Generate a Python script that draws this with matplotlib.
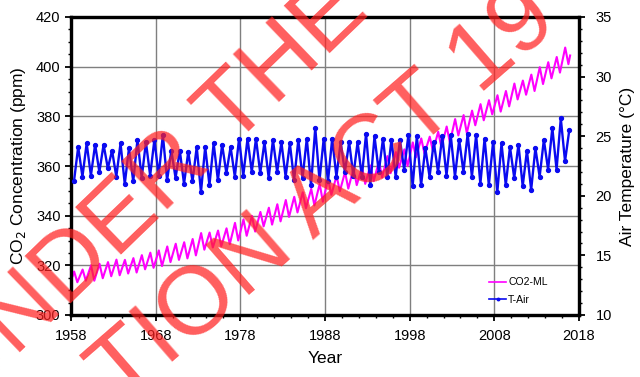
import numpy as np
import matplotlib
matplotlib.use('Agg')
import matplotlib.pyplot as plt
from matplotlib.ticker import MultipleLocator
from matplotlib.lines import Line2D

plt.rcParams['font.family'] = ['Liberation Sans', 'DejaVu Sans']

# ── Data ─────────────────────────────────────────────────────────────────────
# CO2 at Mauna Loa: seasonal maximum (May) and minimum (Sep/Oct) per year, ppm
years = list(range(1958, 2017))
co2_may = [317.5, 318.3, 320.0, 320.6, 321.3, 322.3, 322.2, 322.9, 324.1, 325.1,
           326.0, 327.6, 328.7, 329.3, 330.6, 333.0, 333.2, 334.0, 334.9, 337.1,
           338.5, 339.9, 341.5, 343.2, 344.6, 346.3, 347.6, 349.4, 350.8, 352.8,
           355.0, 356.1, 357.6, 359.0, 359.5, 360.2, 361.8, 364.0, 365.6, 366.7,
           369.5, 371.1, 371.8, 373.8, 375.9, 378.9, 380.5, 382.3, 384.9, 386.5,
           388.5, 390.2, 393.2, 394.4, 396.8, 399.8, 401.8, 403.9, 407.7]
co2_oct = [313.2, 313.8, 313.8, 314.8, 315.6, 316.0, 316.7, 317.1, 318.4, 319.0,
           319.7, 321.3, 322.2, 322.8, 324.0, 326.3, 327.2, 327.7, 328.5, 330.0,
           331.9, 333.6, 335.7, 336.4, 337.7, 339.5, 341.3, 343.0, 344.1, 345.6,
           348.4, 349.8, 350.9, 352.3, 352.8, 353.9, 355.4, 357.1, 359.3, 360.0,
           363.5, 365.0, 366.0, 367.5, 369.5, 372.3, 373.3, 376.4, 378.4, 380.8,
           381.9, 384.0, 386.8, 388.7, 390.2, 393.0, 395.3, 397.6, 401.0]
co2_start = (1958.2, 315.7)
co2_end = (2016.95, 404.5)

# Air temperature: yearly low and high, deg C
t_low = [21.2, 21.6, 21.7, 22.0, 22.3, 21.6, 21.0, 21.2, 21.5, 21.7,
         21.7, 21.3, 21.5, 21.0, 21.2, 20.3, 20.9, 21.3, 21.9, 21.6,
         21.7, 22.0, 21.9, 21.5, 22.0, 21.6, 21.3, 21.5, 20.9, 21.3,
         21.2, 21.6, 22.0, 21.7, 21.6, 20.9, 22.0, 21.6, 21.6, 22.2,
         20.8, 20.9, 21.6, 22.0, 21.7, 21.6, 22.0, 21.6, 21.0, 20.9,
         20.3, 20.9, 21.5, 20.8, 20.5, 21.6, 22.2, 22.2, 22.9]
t_high = [24.1, 24.4, 24.3, 24.3, 23.8, 24.4, 24.0, 24.7, 24.5, 24.7,
          25.1, 23.8, 23.8, 23.7, 24.1, 24.1, 24.4, 24.3, 24.1, 24.8,
          24.8, 24.8, 24.5, 24.7, 24.5, 24.4, 24.7, 24.8, 25.7, 24.8,
          24.8, 24.5, 24.5, 24.5, 25.2, 25.0, 24.8, 24.7, 24.7, 25.1,
          25.0, 24.0, 24.5, 25.0, 25.1, 24.7, 25.2, 25.1, 24.8, 24.5,
          24.4, 24.1, 24.3, 23.8, 24.0, 24.7, 25.7, 26.5, 25.5]

yr = np.array(years, dtype=float)
co2_t = np.concatenate([[co2_start[0]], np.column_stack([yr + 0.37, yr + 0.75]).ravel(), [co2_end[0]]])
co2_v = np.concatenate([[co2_start[1]], np.column_stack([co2_may, co2_oct]).ravel(), [co2_end[1]]])
ta_t = np.column_stack([yr + 0.35, yr + 0.85]).ravel()
ta_v = np.column_stack([t_low, t_high]).ravel()

# ── Figure ────────────────────────────────────────────────────────────────────
fig = plt.figure(figsize=(6.4, 3.77), dpi=100)
ax = fig.add_axes([71/640, 1-315/377, 508/640, 298/377])
ax2 = ax.twinx()

ax.plot(co2_t, co2_v, color='#FF00FF', lw=1.5, zorder=3)
ax2.plot(ta_t, ta_v, color='#0A0AF0', lw=1.7, marker='o', ms=2.8, zorder=3)

ax.set_xlim(1958, 2018)
ax.set_ylim(300, 420)
ax2.set_ylim(10, 35)
ax.set_xticks(range(1958, 2019, 10))
ax.xaxis.set_minor_locator(MultipleLocator(2))
ax.yaxis.set_major_locator(MultipleLocator(20))
ax.yaxis.set_minor_locator(MultipleLocator(5))
ax2.yaxis.set_major_locator(MultipleLocator(5))
ax2.yaxis.set_minor_locator(MultipleLocator(1))

ax.grid(True, which='major', color='#7f7f7f', lw=1.0)
ax.set_axisbelow(True)

for a in (ax, ax2):
    for s in a.spines.values():
        s.set_linewidth(2.3)
    a.tick_params(which='major', direction='out', length=4, width=1.3, labelsize=10.5)
    a.tick_params(which='minor', direction='out', length=2.5, width=1.0)

ax.tick_params(axis='x', pad=6)
ax2.tick_params(axis='y', pad=8)

ax.set_xlabel('Year', fontsize=12.5, labelpad=6)
ax.set_ylabel('CO$_2$ Concentration (ppm)', fontsize=12.5, labelpad=6)
ax2.set_ylabel('Air Temperature (°C)', fontsize=12.5, labelpad=6)

handles = [Line2D([], [], color='#FF00FF', lw=1.2),
           Line2D([], [], color='#0A0AF0', lw=1.2, marker='o', ms=1.8)]
ax2.legend(handles, ['CO2-ML', 'T-Air'], loc='upper left',
           bbox_to_anchor=(480/640, 1-268/377), bbox_transform=fig.transFigure,
           frameon=False, fontsize=7.5, handlelength=1.6, handletextpad=0.2,
           labelspacing=0.7)

# watermark stamped across the page
fig.text(150/640, 185/377, 'UNDER THE', fontsize=70, color='#FF2020', alpha=0.72,
         rotation=44, rotation_mode='anchor', ha='center', va='center', zorder=10)
fig.text(325/640, 180/377, 'TION ACT 19', fontsize=70, color='#FF2020', alpha=0.72,
         rotation=41, rotation_mode='anchor', ha='center', va='center', zorder=10)

fig.savefig('out.png', dpi=100)
